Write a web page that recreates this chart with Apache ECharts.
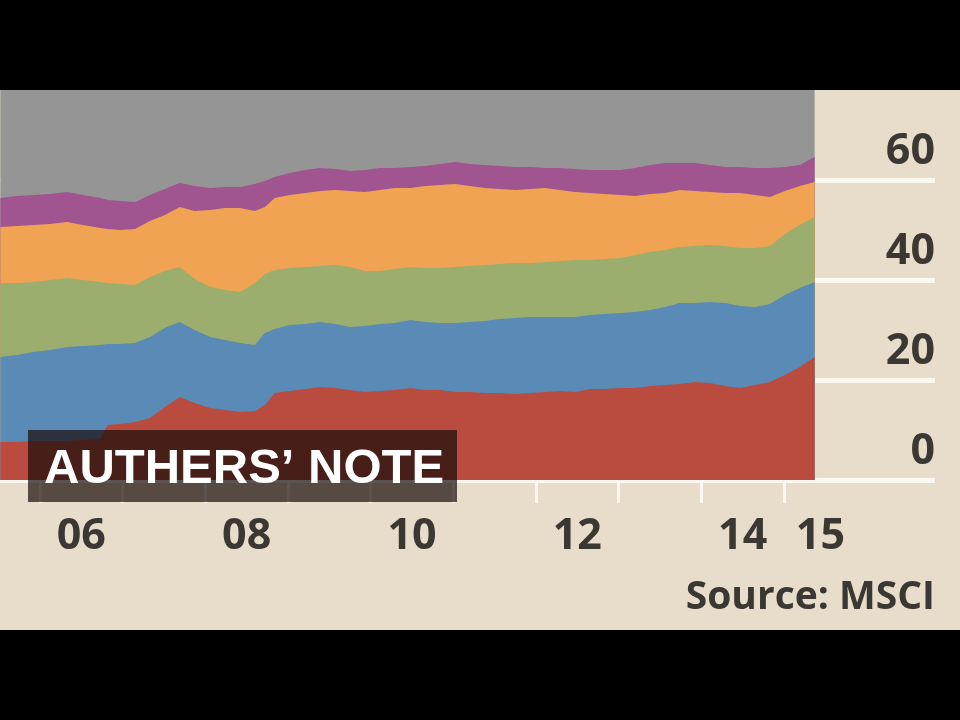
<!DOCTYPE html>
<html>
<head>
<meta charset="utf-8">
<script src="https://cdn.jsdelivr.net/npm/echarts@6/dist/echarts.min.js"></script>
<style>
html,body{margin:0;padding:0;background:#000;}
#chart{width:960px;height:720px;}
</style>
</head>
<body>
<div id="chart"></div>
<script>
// Dates as decimal years
const dates = [2005.52,2005.72,2005.92,2006.12,2006.33,2006.52,2006.73,2006.82,2006.97,2007.15,2007.33,2007.51,2007.69,2007.87,2008.06,2008.24,2008.42,2008.60,2008.72,2008.84,2009.02,2009.21,2009.39,2009.57,2009.75,2009.93,2010.11,2010.29,2010.48,2010.66,2010.84,2011.02,2011.20,2011.38,2011.56,2011.75,2011.93,2012.11,2012.29,2012.47,2012.65,2012.83,2013.02,2013.20,2013.38,2013.56,2013.74,2013.92,2014.10,2014.29,2014.47,2014.65,2014.83,2015.01,2015.19,2015.37];

// Cumulative top of each coloured band (per cent)
const redTop = [7.6,7.6,7.8,7.8,7.8,8.0,8.2,11.0,11.2,11.6,12.4,14.6,16.6,15.4,14.4,14.0,13.6,13.8,15.0,17.4,17.8,18.2,18.6,18.4,18.0,17.6,17.8,18.0,18.4,18.0,18.0,17.6,17.6,17.4,17.4,17.2,17.4,17.6,17.8,17.6,18.2,18.2,18.4,18.4,18.8,19.0,19.2,19.6,19.4,18.8,18.4,19.0,19.6,21.0,22.6,24.6];
const blueTop = [24.6,25.0,25.6,26.0,26.6,26.8,27.0,27.2,27.2,27.4,28.6,30.4,31.6,30.0,28.6,28.0,27.4,27.0,29.4,30.2,31.0,31.2,31.6,31.2,30.6,30.8,31.2,31.4,32.0,31.6,31.4,31.4,31.6,31.8,32.2,32.4,32.6,32.6,32.6,32.6,33.0,33.2,33.4,33.6,34.0,34.6,35.4,35.4,35.6,35.4,34.8,34.6,35.2,37.0,38.4,39.6];
const greenTop = [39.4,39.4,39.6,40.0,40.4,40.0,39.6,39.4,39.2,39.0,40.6,41.8,42.6,40.2,38.6,38.0,37.6,39.4,41.2,42.0,42.4,42.6,42.8,43.0,42.6,41.8,41.8,42.2,42.6,42.4,42.4,42.6,42.8,43.0,43.2,43.4,43.4,43.6,43.8,44.0,44.0,44.2,44.4,45.0,45.6,46.0,46.6,46.8,47.0,46.8,46.4,46.4,46.8,49.2,51.0,52.6];
const orangeTop = [50.6,50.8,51.0,51.2,51.6,51.0,50.4,50.2,50.0,50.2,51.8,53.0,54.6,53.8,54.0,54.4,54.4,53.8,54.6,56.4,57.0,57.4,57.8,58.0,57.8,57.6,58.0,58.4,58.4,58.8,59.0,59.2,58.8,58.4,58.2,58.0,58.2,58.4,58.0,57.6,57.4,57.2,57.0,56.8,57.2,57.4,58.0,57.8,57.6,57.4,57.4,57.0,56.6,57.8,58.8,59.6];
const purpleTop = [56.4,56.8,57.0,57.2,57.6,57.0,56.4,56.0,55.8,55.6,57.0,58.2,59.4,58.8,58.4,58.6,58.6,59.2,59.8,60.6,61.4,62.0,62.4,62.2,61.8,62.0,62.4,62.4,62.6,62.8,63.2,63.6,63.2,63.0,62.8,62.6,62.6,62.4,62.4,62.2,62.0,62.0,62.0,62.4,63.0,63.4,63.4,63.4,63.0,62.6,62.6,62.4,62.4,62.6,63.0,64.6];
const totalShare = 100; // rest of the world fills up to 100%

const xTickYears = [2006,2007,2008,2009,2010,2011,2012,2013,2014,2015];
const xLabelPos = [2006.5,2008.5,2010.5,2012.5,2014.5,2015.44];
const xLabels = ['06','08','10','12','14','15'];
const yTicks = [0,20,40,60];

const colors = {
  gray:'#959595', purple:'#a05490', orange:'#f0a352', green:'#9cae6d', blue:'#5a8ab6', red:'#b94c3e'
};

function band(name, top, color){
  return {
    name: name, type:'line', data: dates.map((d,i)=>[d, top[i]]),
    showSymbol:false, symbol:'none', silent:true, animation:false,
    lineStyle:{width:0}, areaStyle:{color:color, opacity:1}
  };
}

const chart = echarts.init(document.getElementById('chart'), null, {renderer:'canvas'});
chart.setOption({
  backgroundColor:'#e8dcca',
  animation:false,
  grid:{left:0, right:25, top:80, bottom:240},
  xAxis:{
    type:'value', min:2005.516, max:2016.826,
    offset:7,
    axisLine:{show:false},
    splitLine:{show:false},
    axisTick:{show:true, customValues:xTickYears, length:23, lineStyle:{color:'#fbf8f2', width:3}},
    axisLabel:{
      customValues:xLabelPos, margin:28,
      formatter:(v)=>{ const i = xLabelPos.findIndex(p=>Math.abs(p-v)<1e-6); return i>=0?xLabels[i]:''; },
      fontFamily:'Open Sans', fontWeight:'bold', fontSize:43, color:'#3b3732'
    }
  },
  yAxis:{
    type:'value', position:'right', min:0, max:80, interval:20,
    axisLine:{show:false}, axisTick:{show:false},
    splitLine:{show:true, lineStyle:{color:'#fbf8f2', width:5}},
    axisLabel:{
      inside:true, margin:0, showMaxLabel:false,
      formatter:(v)=> yTicks.indexOf(v)>=0 ? String(v) : '',
      fontFamily:'Open Sans', fontWeight:'bold', fontSize:43, color:'#3b3732',
      verticalAlign:'bottom', lineHeight:56
    }
  },
  series:[
    band('Rest', dates.map(()=>totalShare), colors.gray),
    band('Purple', purpleTop, colors.purple),
    band('Orange', orangeTop, colors.orange),
    band('Green', greenTop, colors.green),
    band('Blue', blueTop, colors.blue),
    band('Red', redTop, colors.red)
  ],
  graphic:[
    {type:'rect', shape:{x:28, y:430, width:429, height:72}, style:{fill:'rgba(24,12,10,0.7)'}, z:50},
    {type:'text', x:44, y:494, style:{text:'AUTHERS’ NOTE', fill:'#ffffff', font:'bold 49px "Liberation Sans", Arial, sans-serif', textVerticalAlign:'bottom'}, z:51},
    {type:'text', x:935, y:598, style:{text:'Source: MSCI', fill:'#3b3732', font:'bold 39px "Open Sans", sans-serif', textAlign:'right', textVerticalAlign:'middle'}, z:51},
    {type:'rect', shape:{x:0, y:0, width:960, height:90}, style:{fill:'#000'}, z:100},
    {type:'rect', shape:{x:0, y:630, width:960, height:90}, style:{fill:'#000'}, z:100}
  ]
});
</script>
</body>
</html>
